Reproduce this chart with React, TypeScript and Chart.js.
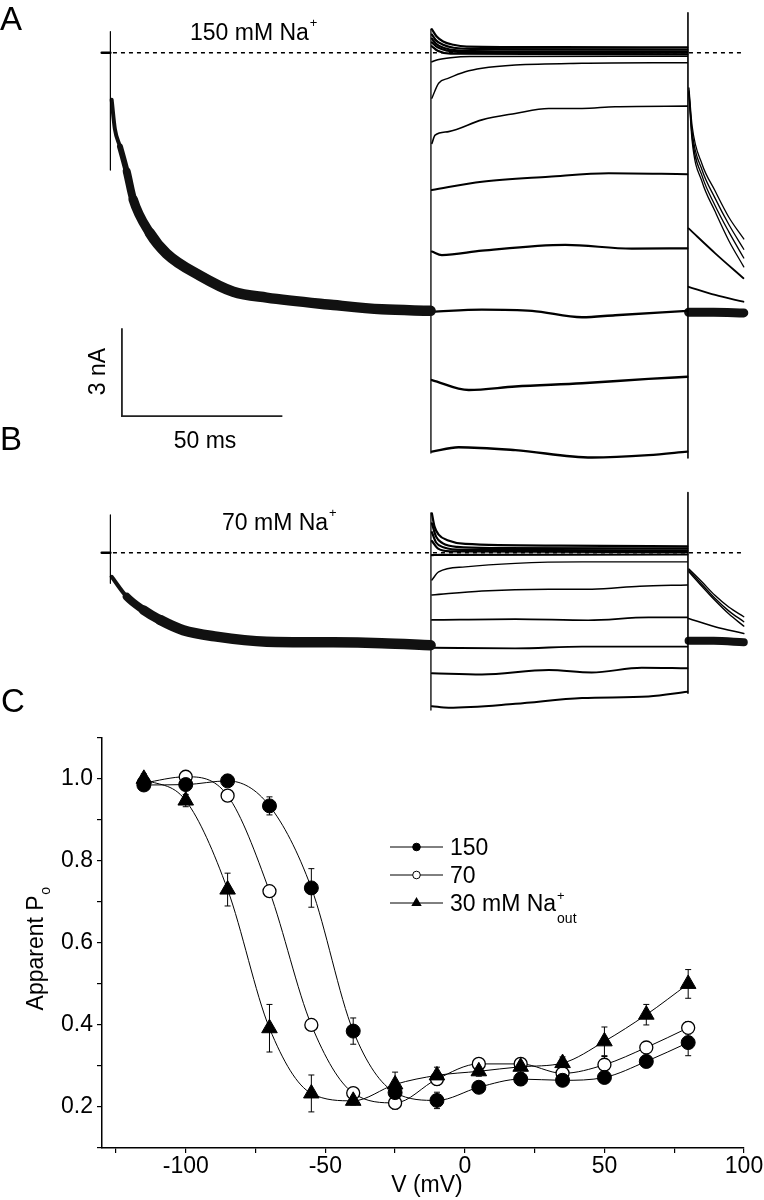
import React, { useEffect, useRef } from 'react';
import { Chart, registerables } from 'chart.js';

Chart.register(...registerables);

const FONT = '"Liberation Sans", Arial, Helvetica, sans-serif';

type Pt = [number, number];

// ---------------- Panel A: 150 mM Na+  (x: time in ms, y: current in nA) ----------------
const aBaseline: Pt[] = [[-2.7, 0], [0, 0]];
const aSpike: Pt[] = [[0, 0.72], [0, -4.0]];
const aDecay: Pt[] = [[0.4, -1.6], [1.4, -2.6], [3.0, -3.2], [5.1, -4.05], [7.1, -5.0], [12.3, -6.15], [17.5, -6.85], [27.9, -7.6], [38.3, -8.15], [48.7, -8.35], [69.5, -8.6], [84.6, -8.75], [99.8, -8.8]];
const aZeroLine: Pt[] = [[0.8, 0], [197.7, 0]];
const aPulseOn: Pt[] = [[99.9, 0.8], [99.9, -13.65]];
const aPulseOff: Pt[] = [[180, 1.36], [180, -13.82]];
const aCluster1: Pt[] = [[100.2, 0.8], [101.7, 0.55], [103.7, 0.38], [106.9, 0.27], [111, 0.21], [140, 0.19], [179.8, 0.18]];
const aCluster2: Pt[] = [[100.2, 0.62], [101.5, 0.42], [103.5, 0.28], [107, 0.17], [115, 0.12], [179.8, 0.11]];
const aCluster3: Pt[] = [[100.2, 0.48], [101.5, 0.3], [104, 0.16], [108, 0.08], [120, 0.05], [179.8, 0.05]];
const aCluster4: Pt[] = [[100.2, 0.35], [102, 0.18], [105, 0.07], [110, 0.02], [179.8, 0.0]];
const aCluster5: Pt[] = [[100.2, 0.22], [102, 0.07], [106, -0.03], [179.8, -0.06]];
const aCluster6: Pt[] = [[100.2, -0.31], [102, -0.24], [106, -0.17], [112, -0.13], [179.8, -0.12]];
const aSweep3: Pt[] = [[100.2, -1.55], [102.3, -1.04], [105.4, -0.87], [110.6, -0.65], [115.8, -0.53], [126.2, -0.42], [147, -0.36], [179.8, -0.34]];
const aSweep4: Pt[] = [[100.2, -3.09], [101.2, -2.81], [105.4, -2.69], [115.8, -2.29], [126.2, -2.07], [136.6, -1.9], [147, -1.9], [157.3, -1.84], [179.8, -1.82]];
const aSweep5: Pt[] = [[100.2, -4.68], [115.8, -4.4], [136.6, -4.23], [155.3, -4.11], [179.8, -4.14]];
const aSweep6: Pt[] = [[100.2, -6.78], [103.3, -6.9], [115.8, -6.75], [141.8, -6.55], [162.5, -6.68], [179.8, -6.67]];
const aSweep7: Pt[] = [[100.2, -8.83], [115.8, -8.76], [131.4, -8.8], [147, -9.02], [157.3, -8.95], [179.8, -8.8]];
const aSweep8: Pt[] = [[100.2, -11.16], [111.7, -11.5], [126.2, -11.38], [147, -11.27], [167.7, -11.12], [179.8, -11.05]];
const aSweep9: Pt[] = [[100.2, -13.6], [108.5, -13.45], [126.2, -13.55], [150.1, -13.8], [167.7, -13.72], [179.8, -13.6]];
const aTail1: Pt[] = [[180.3, -1.2], [181.3, -2.5], [184.4, -3.8], [188.4, -4.7], [192.7, -5.6], [197.4, -6.35]];
const aTail2: Pt[] = [[180.3, -1.3], [181.3, -2.7], [184.4, -4.0], [188.4, -4.95], [192.7, -5.85], [197.4, -6.7]];
const aTail3: Pt[] = [[180.3, -1.35], [181.3, -2.85], [184.4, -4.2], [188.4, -5.2], [192.7, -6.1], [197.4, -7.0]];
const aTail4: Pt[] = [[180.3, -1.4], [181.3, -3.0], [184.4, -4.4], [188.4, -5.4], [192.7, -6.4], [197.4, -7.3]];
const aTailSweep4: Pt[] = [[180.2, -5.99], [188.5, -6.84], [197.3, -7.69]];
const aTailSweep5: Pt[] = [[180.2, -7.98], [188.5, -8.26], [197.3, -8.49]];
const aTailHold: Pt[] = [[180.2, -8.85], [188, -8.85], [197.4, -8.87]];

// ---------------- Panel B: 70 mM Na+ ----------------
const bBaseline: Pt[] = [[-2.7, 0], [0, 0]];
const bSpike: Pt[] = [[0, 1.29], [0, -1.04]];
const bDecay: Pt[] = [[0.4, -0.82], [5.1, -1.5], [10.3, -1.95], [15.5, -2.29], [22.7, -2.64], [33.1, -2.86], [48.7, -3.03], [69.4, -3.05], [84.6, -3.08], [99.8, -3.15]];
const bZeroLine: Pt[] = [[0.8, 0], [197.7, 0]];
const bPulseOn: Pt[] = [[99.9, 1.36], [99.9, -5.36]];
const bPulseOff: Pt[] = [[180, 2.05], [180, -4.79]];
const bCluster1: Pt[] = [[100.2, 1.34], [101, 0.9], [102.3, 0.62], [105.3, 0.42], [110.6, 0.3], [140, 0.24], [179.8, 0.22]];
const bCluster2: Pt[] = [[100.2, 1.0], [101.5, 0.55], [103.5, 0.33], [108, 0.2], [120, 0.16], [179.8, 0.15]];
const bCluster3: Pt[] = [[100.2, 0.7], [101.5, 0.35], [104, 0.18], [110, 0.1], [179.8, 0.08]];
const bCluster4: Pt[] = [[100.2, 0.4], [102, 0.15], [106, 0.05], [179.8, 0.02]];
const bCluster5: Pt[] = [[100.2, -0.08], [103, -0.07], [179.8, -0.06]];
const bSweep3: Pt[] = [[100.2, -0.93], [102.3, -0.65], [110.6, -0.48], [126.2, -0.36], [147, -0.31], [179.8, -0.31]];
const bSweep4: Pt[] = [[100.2, -1.44], [115.8, -1.3], [136.6, -1.24], [150.1, -1.24], [165, -1.14], [179.8, -1.1]];
const bSweep5: Pt[] = [[100.2, -2.29], [126.2, -2.26], [148.9, -2.3], [167.7, -2.2], [179.8, -2.2]];
const bSweep6: Pt[] = [[100.2, -3.24], [126.2, -3.26], [147, -3.2], [179.8, -3.2]];
const bSweep7: Pt[] = [[100.2, -4.11], [115.8, -4.15], [136.6, -4.0], [150, -4.08], [165.6, -3.92], [179.8, -3.94]];
const bSweep8: Pt[] = [[100.2, -5.23], [105.4, -5.28], [126.2, -5.15], [147, -4.95], [167.7, -4.9], [179.8, -4.74]];
const bTail1: Pt[] = [[180.3, -0.55], [184.4, -1.0], [188.4, -1.45], [192.7, -1.85], [197.4, -2.18]];
const bTail2: Pt[] = [[180.3, -0.6], [184.4, -1.08], [188.4, -1.55], [192.7, -1.98], [197.4, -2.35]];
const bTail3: Pt[] = [[180.3, -0.65], [184.4, -1.15], [188.4, -1.62], [192.7, -2.08], [197.4, -2.5]];
const bTailSweep5: Pt[] = [[180.2, -2.24], [188.4, -2.52], [197.4, -2.75]];
const bTailHold: Pt[] = [[180.2, -3.0], [188, -3.0], [197.4, -3.05]];

// scale bar (ms, nA)
const scaleBarT0 = 3.6;
const scaleBarI0 = -12.39;
const scaleBarMs = 50;
const scaleBarNa = 3;

// ---------------- Panel C: apparent Po vs V ----------------
const voltages = [-115, -100, -85, -70, -55, -40, -25, -10, 5, 20, 35, 50, 65, 80];
const po150 = [0.985, 0.986, 0.995, 0.934, 0.734, 0.385, 0.235, 0.216, 0.248, 0.268, 0.265, 0.272, 0.311, 0.357];
const err150 = [0.008, 0.01, 0.008, 0.022, 0.047, 0.032, 0.01, 0.02, 0.01, 0.015, 0.01, 0.01, 0.015, 0.032];
const po70 = [0.99, 1.005, 0.959, 0.726, 0.4, 0.234, 0.21, 0.268, 0.305, 0.305, 0.282, 0.303, 0.345, 0.393];
const err70 = [0.008, 0.01, 0.012, 0.006, 0.012, 0.01, 0.015, 0.015, 0.012, 0.012, 0.01, 0.02, 0.01, 0.015];
const po30 = [1.0, 0.947, 0.73, 0.392, 0.233, 0.215, 0.255, 0.277, 0.287, 0.298, 0.307, 0.36, 0.425, 0.5];
const err30 = [0.012, 0.015, 0.04, 0.058, 0.045, 0.01, 0.03, 0.02, 0.012, 0.015, 0.015, 0.035, 0.025, 0.035];
const legendLabels = ['150', '70', '30 mM Na'];
const xTitle = 'V (mV)';
const yTitle = 'Apparent P';

// ----------------------------------------------------------------
function tr(data: Pt[], axis: string, width: number, extra: any = {}) {
  return {
    data: data.map(([x, y]) => ({ x, y })),
    yAxisID: axis,
    borderColor: '#000',
    backgroundColor: '#000',
    borderWidth: width,
    pointRadius: 0,
    pointHoverRadius: 0,
    fill: false,
    tension: 0,
    borderCapStyle: 'round',
    borderJoinStyle: 'round',
    ...extra,
  };
}
const smooth = { cubicInterpolationMode: 'monotone' };
const dashed = { borderDash: [4, 4], borderCapStyle: 'butt' };

function drawSup(ctx: CanvasRenderingContext2D, main: string, sup: string, x: number, y: number, size: number) {
  ctx.font = `${size}px ${FONT}`;
  ctx.textAlign = 'left';
  ctx.textBaseline = 'alphabetic';
  ctx.fillText(main, x, y);
  const w = ctx.measureText(main).width;
  ctx.font = `${Math.round(size * 0.58)}px ${FONT}`;
  ctx.fillText(sup, x + w + 1, y - size * 0.56);
}

const tracesTextPlugin = {
  id: 'tracesText',
  afterDraw(chart: any) {
    const ctx: CanvasRenderingContext2D = chart.ctx;
    const xs = chart.scales.x;
    const ya = chart.scales.yA;
    ctx.save();
    ctx.fillStyle = '#000';
    ctx.strokeStyle = '#222';
    ctx.lineWidth = 1.8;
    const x0 = xs.getPixelForValue(scaleBarT0);
    const x1 = xs.getPixelForValue(scaleBarT0 + scaleBarMs);
    const y0 = ya.getPixelForValue(scaleBarI0);
    const y1 = ya.getPixelForValue(scaleBarI0 + scaleBarNa);
    ctx.beginPath();
    ctx.moveTo(x0, y1);
    ctx.lineTo(x0, y0);
    ctx.lineTo(x1, y0);
    ctx.stroke();

    ctx.font = `33px ${FONT}`;
    ctx.textAlign = 'left';
    ctx.textBaseline = 'alphabetic';
    ctx.fillText('A', 0, 30);
    ctx.fillText('B', 0, 450);
    ctx.fillText('C', 1, 712);

    drawSup(ctx, '150 mM Na', '+', 190, 40, 23);
    drawSup(ctx, '70 mM Na', '+', 222, 530, 23);

    ctx.font = `23px ${FONT}`;
    ctx.textAlign = 'center';
    ctx.fillText('50 ms', 205, 448);
    ctx.save();
    ctx.translate(105, 371.5);
    ctx.rotate(-Math.PI / 2);
    ctx.fillText('3 nA', 0, 0);
    ctx.restore();
    ctx.restore();
  },
};

function buildTracesConfig() {
  const decayWidth = {
    segment: {
      borderWidth: (c: any) => {
        const t = c.p0.parsed.x;
        return t < 1.5 ? 4 : t < 3.5 ? 6 : t < 6 ? 8 : t < 12 ? 9.5 : 10.5;
      },
    },
  };
  const datasets = [
    tr(aBaseline, 'yA', 2.5),
    tr(aSpike, 'yA', 1.2),
    tr(aDecay, 'yA', 10.5, { ...smooth, ...decayWidth, borderColor: '#111' }),
    tr(aZeroLine, 'yA', 1.4, dashed),
    tr(aPulseOn, 'yA', 1.3),
    tr(aPulseOff, 'yA', 1.6),
    tr(aCluster1, 'yA', 2.2, smooth),
    tr(aCluster2, 'yA', 2.2, smooth),
    tr(aCluster3, 'yA', 2.2, smooth),
    tr(aCluster4, 'yA', 2.2, smooth),
    tr(aCluster5, 'yA', 2.2, smooth),
    tr(aCluster6, 'yA', 1.6, smooth),
    tr(aSweep3, 'yA', 1.4, smooth),
    tr(aSweep4, 'yA', 1.6, smooth),
    tr(aSweep5, 'yA', 2, smooth),
    tr(aSweep6, 'yA', 2.2, smooth),
    tr(aSweep7, 'yA', 2.4, smooth),
    tr(aSweep8, 'yA', 2.4, smooth),
    tr(aSweep9, 'yA', 2.4, smooth),
    tr(aTail1, 'yA', 1.3, smooth),
    tr(aTail2, 'yA', 1.3, smooth),
    tr(aTail3, 'yA', 1.3, smooth),
    tr(aTail4, 'yA', 1.3, smooth),
    tr(aTailSweep4, 'yA', 1.8, smooth),
    tr(aTailSweep5, 'yA', 1.8, smooth),
    tr(aTailHold, 'yA', 9, { ...smooth, borderColor: '#111' }),

    tr(bBaseline, 'yB', 2.5),
    tr(bSpike, 'yB', 1.2),
    tr(bDecay, 'yB', 10, { ...smooth, ...decayWidth, borderColor: '#111' }),
    tr(bZeroLine, 'yB', 1.4, dashed),
    tr(bPulseOn, 'yB', 1.3),
    tr(bPulseOff, 'yB', 1.6),
    tr(bCluster1, 'yB', 2.2, smooth),
    tr(bCluster2, 'yB', 2.2, smooth),
    tr(bCluster3, 'yB', 2.2, smooth),
    tr(bCluster4, 'yB', 2.2, smooth),
    tr(bCluster5, 'yB', 2.2, smooth),
    tr(bSweep3, 'yB', 1.4, smooth),
    tr(bSweep4, 'yB', 1.5, smooth),
    tr(bSweep5, 'yB', 1.7, smooth),
    tr(bSweep6, 'yB', 1.9, smooth),
    tr(bSweep7, 'yB', 2, smooth),
    tr(bSweep8, 'yB', 2, smooth),
    tr(bTail1, 'yB', 1.4, smooth),
    tr(bTail2, 'yB', 1.4, smooth),
    tr(bTail3, 'yB', 1.4, smooth),
    tr(bTailSweep5, 'yB', 1.6, smooth),
    tr(bTailHold, 'yB', 8, { ...smooth, borderColor: '#111' }),
  ];
  return {
    type: 'line',
    data: { datasets },
    options: {
      responsive: false,
      animation: false,
      devicePixelRatio: 1,
      events: [],
      layout: { padding: 0, autoPadding: false },
      plugins: { legend: { display: false }, tooltip: { enabled: false } },
      scales: {
        x: { type: 'linear', display: false, min: -34.4, max: 203.7 },
        y: { type: 'linear', display: false },
        yA: { type: 'linear', display: false, min: -22.75, max: 1.797 },
        yB: { type: 'linear', display: false, min: -5.7, max: 18.84 },
      },
    },
    plugins: [tracesTextPlugin],
  };
}

const seriesPo = [
  { values: po150, errors: err150 },
  { values: po70, errors: err70 },
  { values: po30, errors: err30 },
];

const errorBarPlugin = {
  id: 'errorBars',
  beforeDatasetsDraw(chart: any) {
    const ctx: CanvasRenderingContext2D = chart.ctx;
    const xs = chart.scales.x;
    const ys = chart.scales.y;
    ctx.save();
    ctx.strokeStyle = '#000';
    ctx.lineWidth = 1;
    seriesPo.forEach((s) => {
      s.values.forEach((v, i) => {
        const e = s.errors[i];
        const px = xs.getPixelForValue(voltages[i]);
        const top = ys.getPixelForValue(v + e);
        const bot = ys.getPixelForValue(v - e);
        ctx.beginPath();
        ctx.moveTo(px, top);
        ctx.lineTo(px, bot);
        ctx.moveTo(px - 3, top);
        ctx.lineTo(px + 3, top);
        ctx.moveTo(px - 3, bot);
        ctx.lineTo(px + 3, bot);
        ctx.stroke();
      });
    });
    ctx.restore();
  },
};

const poTextPlugin = {
  id: 'poText',
  afterDraw(chart: any) {
    const ctx: CanvasRenderingContext2D = chart.ctx;
    ctx.save();
    ctx.fillStyle = '#000';
    ctx.strokeStyle = '#000';
    // legend
    const rows = [127, 155, 183];
    rows.forEach((ry, i) => {
      ctx.lineWidth = 1;
      ctx.beginPath();
      ctx.moveTo(390, ry);
      ctx.lineTo(443, ry);
      ctx.stroke();
      ctx.beginPath();
      if (i === 2) {
        const r = 6;
        ctx.moveTo(416.5, ry - r);
        ctx.lineTo(416.5 + r * 0.866, ry + r * 0.5);
        ctx.lineTo(416.5 - r * 0.866, ry + r * 0.5);
        ctx.closePath();
        ctx.fill();
      } else {
        ctx.arc(416.5, ry, 3.8, 0, Math.PI * 2);
        ctx.fillStyle = i === 0 ? '#000' : '#fff';
        ctx.fill();
        ctx.stroke();
        ctx.fillStyle = '#000';
      }
      ctx.font = `23px ${FONT}`;
      ctx.textAlign = 'left';
      ctx.textBaseline = 'alphabetic';
      ctx.fillText(legendLabels[i], 450, ry + 8);
      if (i === 2) {
        const w = ctx.measureText(legendLabels[i]).width;
        ctx.font = `13px ${FONT}`;
        ctx.fillText('+', 450 + w + 1, ry - 3);
        ctx.font = `14px ${FONT}`;
        ctx.fillText('out', 450 + w + 1, ry + 20);
      }
    });
    // x title
    ctx.font = `23px ${FONT}`;
    ctx.textAlign = 'center';
    ctx.textBaseline = 'alphabetic';
    ctx.fillText(xTitle, 427, 472);
    // y title
    ctx.save();
    ctx.translate(43, 229);
    ctx.rotate(-Math.PI / 2);
    ctx.font = `23px ${FONT}`;
    const w1 = ctx.measureText(yTitle).width;
    ctx.font = `14px ${FONT}`;
    const w2 = ctx.measureText('o').width;
    const sx = -(w1 + w2) / 2;
    ctx.textAlign = 'left';
    ctx.font = `23px ${FONT}`;
    ctx.fillText(yTitle, sx, 0);
    ctx.font = `14px ${FONT}`;
    ctx.fillText('o', sx + w1 + 0.5, 7);
    ctx.restore();
    ctx.restore();
  },
};

function buildPoConfig() {
  const mk = (vals: number[]) => voltages.map((v, i) => ({ x: v, y: vals[i] }));
  const common = {
    borderColor: '#000',
    borderWidth: 1,
    fill: false,
    cubicInterpolationMode: 'monotone',
    pointBorderColor: '#000',
    pointHoverRadius: 0,
    clip: false,
  };
  const datasets = [
    { ...common, label: '150', data: mk(po150), pointStyle: 'circle', pointRadius: 7, pointBackgroundColor: '#000', pointBorderWidth: 1, order: 1 },
    { ...common, label: '70', data: mk(po70), pointStyle: 'circle', pointRadius: 6.5, pointBackgroundColor: '#fff', pointBorderWidth: 1.3, order: 2 },
    { ...common, label: '30', data: mk(po30), pointStyle: 'triangle', pointRadius: 9, pointBackgroundColor: '#000', pointBorderWidth: 1, order: 0 },
  ];
  const tickFont = { family: FONT, size: 23 };
  return {
    type: 'line',
    data: { datasets },
    options: {
      responsive: false,
      animation: false,
      devicePixelRatio: 1,
      events: [],
      layout: { padding: { top: 7, right: 20, left: 0, bottom: 0 }, autoPadding: false },
      plugins: { legend: { display: false }, tooltip: { enabled: false } },
      scales: {
        x: {
          type: 'linear',
          position: 'bottom',
          min: -130,
          max: 100,
          ticks: {
            stepSize: 25,
            includeBounds: false,
            autoSkip: false,
            maxRotation: 0,
            padding: 0,
            color: '#000',
            font: tickFont,
            callback: (v: number) => (v % 50 === 0 ? String(v) : ''),
          },
          grid: { display: true, drawOnChartArea: false, drawTicks: true, tickLength: 5, color: '#000', lineWidth: 1.2 },
          border: { display: true, color: '#000', width: 1.5 },
          afterFit: (s: any) => {
            s.height = 52;
          },
        },
        y: {
          type: 'linear',
          position: 'left',
          min: 0.1,
          max: 1.1,
          ticks: {
            stepSize: 0.1,
            autoSkip: false,
            padding: 4,
            color: '#000',
            font: tickFont,
            callback: (v: number) => {
              const r = Math.round(v * 10);
              return r % 2 === 0 && r >= 2 && r <= 10 ? (r / 10).toFixed(1) : '';
            },
          },
          grid: { display: true, drawOnChartArea: false, drawTicks: true, tickLength: 5, color: '#000', lineWidth: 1.2 },
          border: { display: true, color: '#000', width: 1.5 },
          afterFit: (s: any) => {
            s.width = 102;
          },
        },
      },
    },
    plugins: [errorBarPlugin, poTextPlugin],
  };
}

export default function App() {
  const tracesRef = useRef<HTMLCanvasElement>(null);
  const poRef = useRef<HTMLCanvasElement>(null);
  useEffect(() => {
    const c1 = new Chart(tracesRef.current as HTMLCanvasElement, buildTracesConfig() as any);
    const c2 = new Chart(poRef.current as HTMLCanvasElement, buildPoConfig() as any);
    return () => {
      c1.destroy();
      c2.destroy();
    };
  }, []);
  return (
    <div style={{ position: 'absolute', left: 0, top: 0, width: 764, height: 1200, background: '#fff' }}>
      <canvas ref={tracesRef} width={764} height={720} style={{ position: 'absolute', left: 0, top: 0, width: 764, height: 720 }} />
      <canvas ref={poRef} width={764} height={480} style={{ position: 'absolute', left: 0, top: 720, width: 764, height: 480 }} />
    </div>
  );
}
